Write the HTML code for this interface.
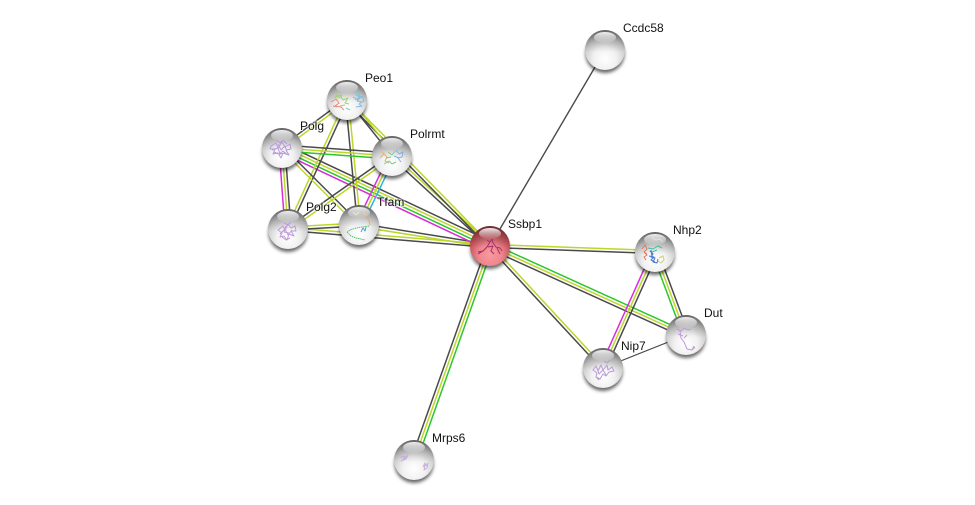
<!DOCTYPE html>
<html><head><meta charset="utf-8"><style>
html,body{margin:0;padding:0;background:#fff}
svg{display:block}
text{font-family:"Liberation Sans",sans-serif;font-size:12px;fill:#111;stroke:#fff;stroke-width:2px;paint-order:stroke;stroke-opacity:.6}
.e line{stroke-width:1.5;fill:none}
.d{stroke:#4a4a4a}.y{stroke:#bdd62a}.g{stroke:#2cc62c}.m{stroke:#d82ed8}.b{stroke:#2db4dc}
.s{fill:none;stroke-width:1;stroke-linejoin:round;filter:url(#sf)}
</style></head><body>
<svg width="975" height="505" viewBox="0 0 975 505" xmlns="http://www.w3.org/2000/svg">
<defs>
<radialGradient id="sp" cx=".5" cy=".72" r=".72"><stop offset="0" stop-color="#fff"/><stop offset=".4" stop-color="#f1f1f1"/><stop offset=".72" stop-color="#cdcdcd"/><stop offset="1" stop-color="#8e8e8e"/></radialGradient>
<radialGradient id="rd" cx=".5" cy=".72" r=".72"><stop offset="0" stop-color="#f79aa0"/><stop offset=".4" stop-color="#ee868c"/><stop offset=".72" stop-color="#c9555d"/><stop offset="1" stop-color="#963a42"/></radialGradient>
<linearGradient id="tp" x1="0" y1="0" x2="0" y2="1"><stop offset="0" stop-color="#000" stop-opacity=".32"/><stop offset=".55" stop-color="#000" stop-opacity="0"/></linearGradient>
<linearGradient id="hl" x1="0" y1="0" x2="0" y2="1"><stop offset="0" stop-color="#fff" stop-opacity=".9"/><stop offset="1" stop-color="#fff" stop-opacity=".05"/></linearGradient>
<filter id="bl" x="-30%" y="-30%" width="160%" height="160%"><feGaussianBlur stdDeviation="1.8"/></filter>
<filter id="sf" x="-10%" y="-10%" width="120%" height="120%"><feGaussianBlur stdDeviation=".35"/></filter>
<g id="base"><ellipse cx="0" cy="4" rx="19.5" ry="19" fill="#000" opacity=".6" filter="url(#bl)"/><circle r="20" fill="url(#sp)"/><circle r="20" fill="url(#tp)"/></g>
<g id="baser"><ellipse cx="0" cy="4" rx="19.5" ry="19" fill="#000" opacity=".6" filter="url(#bl)"/><circle r="20" fill="url(#rd)"/><circle r="20" fill="url(#tp)"/></g>
<g id="top"><ellipse cx="0" cy="-12.5" rx="11" ry="5.5" fill="url(#hl)"/></g>
</defs>
<rect width="975" height="505" fill="#fff"/>
<g class="e">
<line class="d" x1="605" y1="50" x2="490" y2="246" style="stroke-width:1.4"/>
<line class="d" x1="487.2" y1="245" x2="411.2" y2="459"/><line class="y" x1="490" y1="246" x2="414" y2="460"/><line class="g" x1="492.8" y1="247" x2="416.8" y2="461"/>
<line class="y" x1="490" y1="244.5" x2="655" y2="250.5"/><line class="d" x1="490" y1="247.5" x2="655" y2="253.5"/>
<line class="g" x1="491.2" y1="243.3" x2="687.2" y2="332.3"/><line class="y" x1="490" y1="246" x2="686" y2="335"/><line class="d" x1="488.8" y1="248.7" x2="684.8" y2="337.7"/>
<line class="y" x1="491.1" y1="245" x2="604.1" y2="367"/><line class="d" x1="488.9" y1="247" x2="601.9" y2="369"/>
<line class="d" x1="657.8" y1="251" x2="688.8" y2="334"/><line class="y" x1="655" y1="252" x2="686" y2="335"/><line class="g" x1="652.2" y1="253" x2="683.2" y2="336"/>
<line class="d" x1="657.7" y1="253.2" x2="605.7" y2="369.2"/><line class="y" x1="655" y1="252" x2="603" y2="368"/><line class="m" x1="652.3" y1="250.8" x2="600.3" y2="366.8"/>
<line class="d" x1="686" y1="335" x2="603" y2="368" style="stroke-width:1.2"/>
<line class="d" x1="359.2" y1="223.5" x2="490.2" y2="244.5"/><line class="y" x1="358.8" y1="226.5" x2="489.8" y2="247.5"/>
<line class="y" x1="288" y1="227.5" x2="490" y2="244.5"/><line class="d" x1="288" y1="230.5" x2="490" y2="247.5"/>
<line class="y" x1="288" y1="227" x2="359" y2="223"/><line class="d" x1="288" y1="230" x2="359" y2="226"/>
<line class="d" x1="283.9" y1="143.9" x2="491.9" y2="241.9"/><line class="y" x1="282.6" y1="146.6" x2="490.6" y2="244.6"/><line class="g" x1="281.4" y1="149.4" x2="489.4" y2="247.4"/><line class="m" x1="280.1" y1="152.1" x2="488.1" y2="250.1"/>
<line class="y" x1="393" y1="154.9" x2="491" y2="244.9"/><line class="d" x1="391" y1="157.1" x2="489" y2="247.1"/>
<line class="y" x1="348.1" y1="99" x2="491.1" y2="245"/><line class="d" x1="345.9" y1="101" x2="488.9" y2="247"/>
<line class="y" x1="349.4" y1="98" x2="394.4" y2="154"/><line class="d" x1="347.2" y1="100" x2="392.2" y2="156"/>
<line class="d" x1="346.1" y1="98.8" x2="281.1" y2="146.8"/><line class="y" x1="347.9" y1="101.2" x2="282.9" y2="149.2"/>
<line class="y" x1="345.6" y1="99.4" x2="286.6" y2="228.4"/><line class="d" x1="348.4" y1="100.6" x2="289.4" y2="229.6"/>
<line class="d" x1="345.5" y1="100" x2="357.5" y2="225"/><line class="y" x1="348.5" y1="100" x2="360.5" y2="225"/>
<line class="d" x1="282" y1="145" x2="392" y2="153"/><line class="y" x1="282" y1="148" x2="392" y2="156"/><line class="g" x1="282" y1="151" x2="392" y2="159"/>
<line class="m" x1="279" y1="148" x2="285" y2="229"/><line class="y" x1="282" y1="148" x2="288" y2="229"/><line class="d" x1="285" y1="148" x2="291" y2="229"/>
<line class="d" x1="283.1" y1="146.9" x2="360.1" y2="223.9"/><line class="y" x1="280.9" y1="149.1" x2="357.9" y2="226.1"/>
<line class="d" x1="391.1" y1="154.8" x2="287.1" y2="227.8"/><line class="y" x1="392.9" y1="157.2" x2="288.9" y2="230.2"/>
<line class="m" x1="389.3" y1="154.7" x2="356.3" y2="223.7"/><line class="y" x1="392" y1="156" x2="359" y2="225"/><line class="b" x1="394.7" y1="157.3" x2="361.7" y2="226.3"/>
</g>

<use href="#base" x="605" y="50"/><use href="#top" x="605" y="50"/>

<use href="#base" x="347" y="100"/>
<g class="s"><path stroke="#e88a80" d="M331 102l5-3 3 4-4 3 6 1 3 3M333 106l4 1"/><path stroke="#9fd070" d="M334 98l6-3 3 5 5-2-3 5 4 1M340 106l5-1M336 94l3 4 3-3"/><path stroke="#7fb8e8" d="M353 97l5 3 4-4 2 5-5 3 3 2-6 1M356 94l4 4-3 3 5 1"/><path stroke="#70d0c0" d="M358 92l2 5-5 3M346 108l4 2"/></g>
<use href="#top" x="347" y="100"/>

<use href="#base" x="282" y="148"/>
<g class="s" stroke="#b79ad6"><path d="M271 146l5-3 2 5 4-6 3 5 5-3 1 5-5 1 3 5-6-2-2 5-3-5-5 1 2-5-5 0zM276 140l4 3 3-3 4 4M274 152l5 2 4-3 5 4M278 144l3 6 4-4 2 6M272 150l6-2 2 6 5-1"/></g>
<use href="#top" x="282" y="148"/>

<use href="#base" x="392" y="156"/>
<g class="s"><path stroke="#e8b070" d="M380 158l4-4 3 3-2 4 4 2M382 152l3 3"/><path stroke="#80c890" d="M384 164l5-3 3 3 4-2M388 152l4 3 3-4M386 158l5-1"/><path stroke="#80b0e0" d="M396 150l3 4 4-2-1 5-4 1 3 4M394 156l5 2"/></g>
<use href="#top" x="392" y="156"/>

<use href="#base" x="288" y="229"/>
<g class="s" stroke="#c09ade"><path d="M278 230l5-4 2 4 3-6 3 4 4-2 1 5-5 0 3 5-5-2-2 6-3-4-4 1 2-4-4-3zM282 237l4 3 4-2M284 223l4 2 3-3M280 234l5-5 3 6 4-5M286 226l-2 6 5 1"/></g>
<use href="#top" x="288" y="229"/>

<use href="#base" x="359" y="225"/>
<g class="s" stroke-width="1.3"><path stroke="#e8a878" d="M363 212l3 4 3 5 1 4"/><path stroke="#50c070" stroke-dasharray="1.5 .7" d="M369 226l-7 1-6 1-6 2-3 2M347 232l4 4 5 2 5 1 4 1"/><path stroke="#50a0d8" d="M361 232l2-4 2 3 1-4"/><path stroke="#e0e0a0" d="M353 212l3 3 3-3"/></g>
<use href="#top" x="359" y="225"/>

<use href="#baser" x="490" y="246"/>
<g class="s" stroke="#a82a70" stroke-width="1.5"><path d="M478 254l5-3 4-4 3-5 2-3 1 4 3 4 4 1 2 3M490 242l-3-2M493 246l-2 5 3 3M483 251l-5 1M497 248l3 6M488 247l5-1"/></g>
<use href="#top" x="490" y="246"/>

<use href="#base" x="655" y="252"/>
<g class="s" stroke-width="1.4"><path stroke="#e07860" d="M642 249l3-4 2 4-3 3 3 3-3 2 2 3M644 252l3 2"/><path stroke="#3f78cc" d="M650 251l3 3-2 3 4 1-2 4 4 1 1-4M649 256l5 1-3 3 4 2M651 250l1 6"/><path stroke="#40c0a0" d="M648 248l5 1 5-3 4 2M652 252l5-2"/><path stroke="#d0d070" d="M659 258l4-2 1 4-3 3-3-2"/><path stroke="#a0e0a0" d="M652 238l4 2 4-1 3 3"/></g>
<use href="#top" x="655" y="252"/>

<use href="#base" x="686" y="335"/>
<g class="s" stroke="#c09ade"><path d="M677 329l4 2 3-3 4 2 3-1M680 331l1 7 3 4 3 7 5 1 3-3M684 338l3-3M692 350l2-4M678 334l5 2"/></g>
<use href="#top" x="686" y="335"/>

<use href="#base" x="603" y="368"/>
<g class="s" stroke="#b79ad6"><path d="M593 370l3-4 2 5 3-6 2 5 4-5 1 5 4-3 2 4-5 1-3 4-3-2-3 5-4-2 1-4-4-3zM604 361l3 2 3-3M596 377l3 3M597 368l2 6 4-4 3 5"/></g>
<use href="#top" x="603" y="368"/>

<use href="#base" x="414" y="460"/>
<g class="s" stroke="#c8acdf"><path d="M400 458l3-2 2 2 3-3-2 4-3 1 2-4M401 461l4-2M423 467l2-4 1 3 2-3-1 5-3 2 1-5M424 470l3-2"/></g>
<use href="#top" x="414" y="460"/>

<text x="623" y="32">Ccdc58</text>
<text x="365" y="82">Peo1</text>
<text x="300" y="130">Polg</text>
<text x="410" y="138">Polrmt</text>
<text x="306" y="211">Polg2</text>
<text x="377" y="206">Tfam</text>
<text x="508" y="228">Ssbp1</text>
<text x="673" y="234">Nhp2</text>
<text x="704" y="317">Dut</text>
<text x="621" y="350">Nip7</text>
<text x="432" y="442">Mrps6</text>
</svg>
</body></html>
